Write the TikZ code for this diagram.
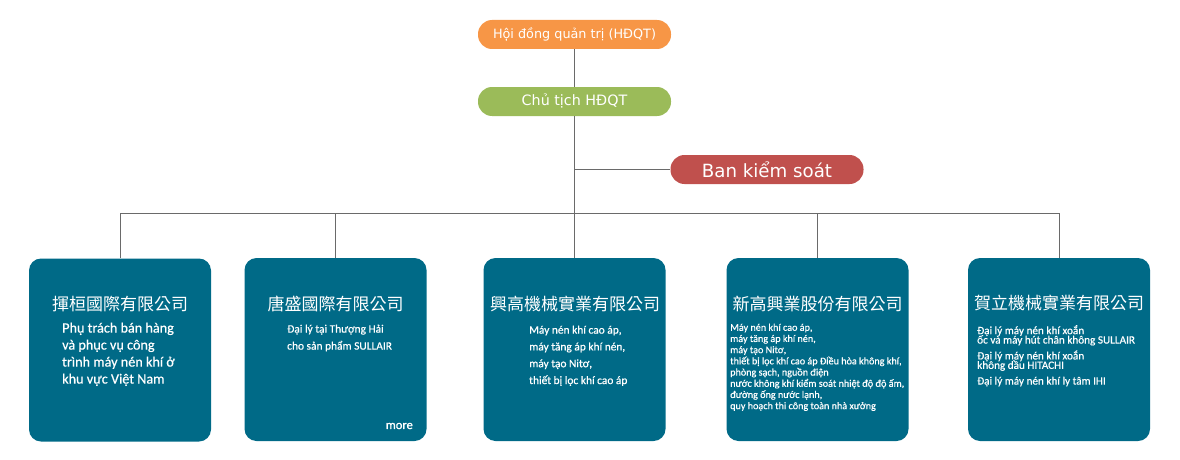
\documentclass[tikz,border=0pt]{standalone}
\usepackage{fontspec}
\setmainfont{Carlito}[FakeBold=0.5]
\newfontfamily\morefont{Carlito}[FakeBold=1.2]
\newfontfamily\pillfont{DejaVu Sans}
\newfontfamily\cjk{Noto Sans CJK TC}
\newcommand\mytightlines{\lineskiplimit=-20pt\relax}
\definecolor{teal}{HTML}{006A87}
\definecolor{orng}{HTML}{F79646}
\definecolor{grn}{HTML}{9BBB59}
\definecolor{redc}{HTML}{C0504D}
\definecolor{linec}{HTML}{6A6A6A}
\begin{document}
\begin{tikzpicture}[x=1pt,y=-1pt,
  pill/.style={rounded corners=14pt,minimum width=193pt,minimum height=29pt,inner sep=0pt,text=white,font=\pillfont},
  cobox/.style={fill=teal,rounded corners=12pt,minimum width=182pt,minimum height=183pt,inner sep=0pt},
  cjktitle/.style={text=white,inner sep=0pt,font=\cjk\fontsize{17}{20}\selectfont},
  body/.style={text=white,inner sep=0pt,align=left,anchor=north west},
  conn/.style={draw=linec,line width=0.8pt}]
\useasboundingbox (0,0) rectangle (1180,460);
% top nodes
\node[pill,fill=orng,font=\pillfont\fontsize{12.8}{15}\selectfont] (hd) at (574.5,34.5) {Hội đồng quản trị (HĐQT)};
\node[pill,fill=grn,font=\pillfont\fontsize{14.3}{17}\selectfont] (ct) at (574.5,101.5) {Chủ tịch HĐQT};
\node[pill,fill=redc,font=\pillfont\fontsize{18.2}{21}\selectfont] (bks) at (767,169.5) {Ban kiểm soát};
% company boxes
\node[cobox] (b1) at (120,350) {};
\node[cobox] (b2) at (335.5,349.5) {};
\node[cobox] (b3) at (574.5,349.5) {};
\node[cobox] (b4) at (817.5,349.5) {};
\node[cobox] (b5) at (1059,349.5) {};
% connectors
\coordinate (busy) at (0,213);
\draw[conn] (hd) -- (ct);
\draw[conn] (ct) -- (b3);
\draw[conn] (ct.south |- bks) -- (bks.west);
\draw[conn] (b1.north) |- (busy -| b5.north) -- (b5.north);
\draw[conn] (b2.north) -- (b2.north |- busy);
\draw[conn] (b4.north) -- (b4.north |- busy);
% titles
\node[cjktitle] (t1) at (120,304) {揮桓國際有限公司};
\node[cjktitle] (t2) at (335.5,304) {唐盛國際有限公司};
\node[cjktitle] (t3) at (575,304) {興高機械實業有限公司};
\node[cjktitle] (t4) at (817.5,304) {新高興業股份有限公司};
\node[cjktitle] (t5) at (1059,303) {賀立機械實業有限公司};
% bodies
\node[body,font=\fontsize{14.2}{17}\selectfont] (d1) at (62,322.5) {Phụ trách bán hàng\\và phục vụ công\\trình máy nén khí ở\\khu vực Việt Nam};
\node[body,font=\fontsize{11.4}{17}\selectfont] (d2) at (287,324.5) {Đại lý tại Thượng Hải\\cho sản phẩm SULLAIR};
\node[text=white,inner sep=0pt,anchor=east,font=\morefont\fontsize{12.5}{14}\selectfont] (more) at (413,426) {more};
\node[body,font=\fontsize{11.4}{16.8}\selectfont] (d3) at (529,325.5) {Máy nén khí cao áp,\\máy tăng áp khí nén,\\máy tạo Nitơ,\\thiết bị lọc khí cao áp};
\node[body,font=\fontsize{10.15}{11.2}\selectfont\mytightlines] (d4) at (730,323.5) {Máy nén khí cao áp,\\máy tăng áp khí nén,\\máy tạo Nitơ,\\thiết bị lọc khí cao áp Điều hòa không khí,\\phòng sạch, nguồn điện\\nước không khí kiểm soát nhiệt độ độ ấm,\\đường ống nước lạnh,\\quy hoạch thi công toàn nhà xưởng};
\node[body,font=\fontsize{11.2}{9.4}\selectfont\mytightlines] (d5) at (977,325) {Đại lý máy nén khí xoắn\\ốc và máy hút chân không SULLAIR\\[6.5pt]Đại lý máy nén khí xoắn\\không dầu HITACHI\\[6.3pt]Đại lý máy nén khí ly tâm IHI};
\end{tikzpicture}
\end{document}
